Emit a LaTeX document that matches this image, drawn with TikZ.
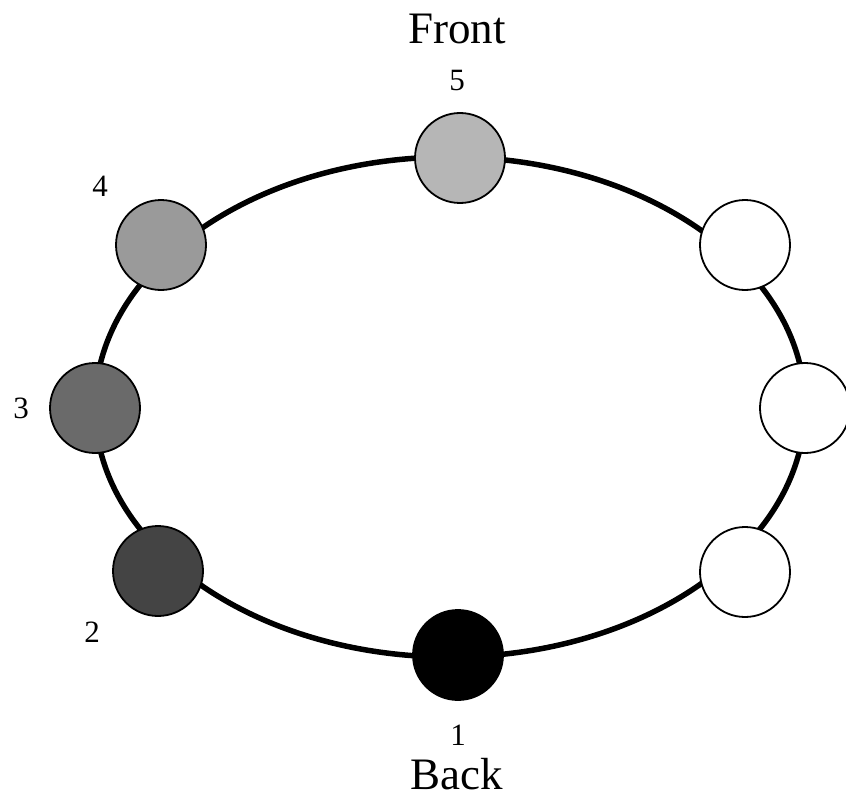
\documentclass[tikz,border=0pt]{standalone}
\usepackage{fontspec}
\setmainfont{Liberation Serif}
\definecolor{shadeA}{RGB}{182,182,182}
\definecolor{shadeB}{RGB}{154,154,154}
\definecolor{shadeC}{RGB}{106,106,106}
\definecolor{shadeD}{RGB}{68,68,68}
\begin{document}
\begin{tikzpicture}[x=1pt,y=-1pt,
  bead/.style={circle,draw=black,line width=1.8pt,minimum size=90pt,inner sep=0pt},
  num/.style={font=\fontsize{31}{34}\selectfont,inner sep=0pt},
  title/.style={font=\fontsize{45}{50}\selectfont,inner sep=0pt,anchor=base}]
\useasboundingbox (0,0) rectangle (846,797);
% the ring
\draw[line width=5.5pt] (450,407) ellipse [x radius=355, y radius=250];
% beads
\node[bead,fill=shadeA] (b5) at (460,158) {};
\node[bead,fill=shadeB] (b4) at (161,245) {};
\node[bead,fill=shadeC] (b3) at (95,408) {};
\node[bead,fill=shadeD] (b2) at (158,571) {};
\node[bead,fill=black]  (b1) at (458,655) {};
\node[bead,fill=white]  (r1) at (745,245) {};
\node[bead,fill=white]  (r2) at (805,408) {};
\node[bead,fill=white]  (r3) at (745,572) {};
% labels
\node[title] (front) at (457,44) {Front};
\node[title] (back) at (457,789) {Back};
\node[num] (n5) at (457,81) {5};
\node[num] (n4) at (100,186) {4};
\node[num] (n3) at (21,408) {3};
\node[num] (n2) at (92,632) {2};
\node[num] (n1) at (458,735) {1};
\end{tikzpicture}
\end{document}
